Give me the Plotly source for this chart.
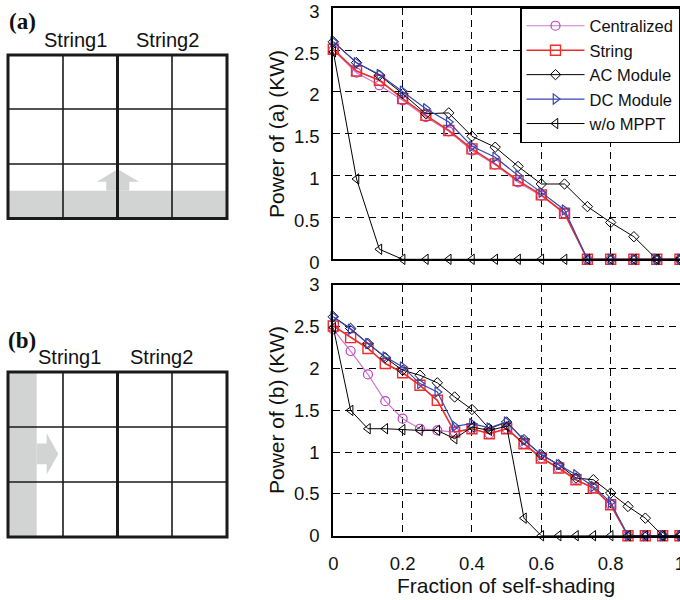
import plotly.graph_objects as go

# ---------------- data ----------------
series_names = ["Centralized", "String", "AC Module", "DC Module", "w/o MPPT"]

# panel (a): horizontal shading rising from the bottom row
frac_a = [0.000, 0.067, 0.133, 0.200, 0.267, 0.333, 0.400, 0.467,
          0.533, 0.600, 0.667, 0.733, 0.800, 0.867, 0.933, 1.000]
central_a = [2.50, 2.23, 2.08, 1.90, 1.70, 1.53, 1.30, 1.13, 0.92, 0.76, 0.55, 0, 0, 0, 0, 0]
string_a = [2.51, 2.25, 2.14, 1.92, 1.72, 1.54, 1.32, 1.14, 0.94, 0.77, 0.55, 0, 0, 0, 0, 0]
ac_a = [2.60, 2.35, 2.20, 1.98, 1.74, 1.75, 1.47, 1.34, 1.11, 0.90, 0.90, 0.63, 0.44, 0.27, 0, 0]
dc_a = [2.60, 2.35, 2.21, 2.01, 1.80, 1.64, 1.35, 1.22, 1.00, 0.80, 0.59, 0, 0, 0, 0, 0]
nomppt_a = [2.48, 0.96, 0.12, 0, 0, 0, 0, 0, 0, 0, 0, 0, 0, 0, 0, 0]

# panel (b): vertical shading moving in from the left column
frac_b = [0.00, 0.05, 0.10, 0.15, 0.20, 0.25, 0.30, 0.35, 0.40, 0.45, 0.50,
          0.55, 0.60, 0.65, 0.70, 0.75, 0.80, 0.85, 0.90, 0.95, 1.00]
central_b = [2.47, 2.21, 1.93, 1.61, 1.40, 1.28, 1.26, 1.24, 1.28, 1.22, 1.28,
             1.10, 0.93, 0.81, 0.67, 0.57, 0.37, 0, 0, 0, 0]
string_b = [2.51, 2.37, 2.24, 2.06, 1.95, 1.80, 1.62, 1.24, 1.28, 1.22, 1.28,
            1.10, 0.93, 0.81, 0.67, 0.57, 0.37, 0, 0, 0, 0]
ac_b = [2.62, 2.48, 2.30, 2.13, 1.98, 1.92, 1.83, 1.66, 1.51, 1.28, 1.36,
        1.15, 0.97, 0.85, 0.69, 0.67, 0.51, 0.35, 0.21, 0, 0]
dc_b = [2.62, 2.47, 2.30, 2.14, 2.02, 1.82, 1.72, 1.31, 1.34, 1.29, 1.36,
        1.14, 0.97, 0.85, 0.73, 0.59, 0.40, 0, 0, 0, 0]
nomppt_b = [2.49, 1.50, 1.28, 1.28, 1.27, 1.26, 1.26, 1.16, 1.30, 1.26, 1.31,
            0.21, 0, 0, 0, 0, 0, 0, 0, 0, 0]

y_tick_vals = [0, 0.5, 1, 1.5, 2, 2.5, 3]
y_tick_text = ["0", "0.5", "1", "1.5", "2", "2.5", "3"]
x_tick_vals = [0, 0.2, 0.4, 0.6, 0.8, 1]
x_tick_text = ["0", "0.2", "0.4", "0.6", "0.8", "1"]

# ---------------- styling ----------------
W, H = 680, 600
SANS = "Liberation Sans, Arial, sans-serif"
SERIF = "Liberation Serif, Times New Roman, serif"

styles = {
    "Centralized": dict(line=dict(color="#c77ccc", width=1.2),
                        marker=dict(symbol="circle-open", size=9, color="#c040c0",
                                    line=dict(width=1.2))),
    "String": dict(line=dict(color="#e8302c", width=1.6),
                   marker=dict(symbol="square-open", size=10, color="#e8302c",
                               line=dict(width=1.4))),
    "AC Module": dict(line=dict(color="#000000", width=1),
                      marker=dict(symbol="diamond-open", size=8, color="#000000",
                                  line=dict(width=1))),
    "DC Module": dict(line=dict(color="#3a46b0", width=1.2),
                      marker=dict(symbol="triangle-right-open", size=9, color="#3a46b0",
                                  line=dict(width=1.2))),
    "w/o MPPT": dict(line=dict(color="#000000", width=1),
                     marker=dict(symbol="triangle-left-open", size=9, color="#000000",
                                 line=dict(width=1))),
}


def px_x(p):
    return p / W


def px_y(p):
    return 1 - p / H


fig = go.Figure()

panel_a = [central_a, string_a, ac_a, dc_a, nomppt_a]
panel_b = [central_b, string_b, ac_b, dc_b, nomppt_b]

for name, ys in zip(series_names, panel_a):
    fig.add_trace(go.Scatter(x=frac_a, y=ys, name=name, mode="lines+markers",
                             xaxis="x", yaxis="y", cliponaxis=False,
                             legendgroup=name, showlegend=True, **styles[name]))
for name, ys in zip(series_names, panel_b):
    fig.add_trace(go.Scatter(x=frac_b, y=ys, name=name, mode="lines+markers",
                             xaxis="x2", yaxis="y2", cliponaxis=False,
                             legendgroup=name, showlegend=False, **styles[name]))

x_dom = [px_x(333.3), 1.0]
grid_common = dict(showgrid=True, gridcolor="#000000", gridwidth=1, griddash="7px,5px",
                   showline=True, linecolor="#000000", linewidth=2, zeroline=False,
                   automargin=False, ticks="", ticklabeloverflow="allow",
                   tickfont=dict(family=SANS, size=18.5, color="#111111"))

xaxis_common = dict(range=[0, 1], tickvals=x_tick_vals, ticktext=x_tick_text,
                    mirror=True, domain=x_dom, **grid_common)
yaxis_common = dict(range=[0, 3], tickvals=y_tick_vals, ticktext=y_tick_text,
                    mirror=False, ticklabelstandoff=8, **grid_common)

fig.update_layout(
    width=W, height=H,
    margin=dict(l=0, r=0, t=0, b=0, pad=0),
    paper_bgcolor="white", plot_bgcolor="white",
    xaxis=dict(anchor="y", showticklabels=False, **xaxis_common),
    # labels of the upper panel nudged down a touch so the top "3" stays on the page
    yaxis=dict(anchor="x", domain=[px_y(259.3), px_y(8.3)], ticklabelshift=3,
               **yaxis_common),
    xaxis2=dict(anchor="y2", showticklabels=True, ticklabelstandoff=10, **xaxis_common),
    yaxis2=dict(anchor="x2", domain=[px_y(535.7), px_y(285)], **yaxis_common),
    legend=dict(x=1.0, xanchor="right", y=px_y(7), yanchor="top",
                bgcolor="white", bordercolor="#000000", borderwidth=1.5,
                font=dict(family=SANS, size=16.5, color="#111111"),
                itemwidth=58, tracegroupgap=0),
    showlegend=True,
)

# axis titles
annotations = [
    dict(text="Power of (a) (KW)", x=px_x(276), y=px_y(134), textangle=-90),
    dict(text="Power of (b) (KW)", x=px_x(276), y=px_y(410), textangle=-90),
    dict(text="Fraction of self-shading", x=px_x(505.5), y=px_y(585), textangle=0),
]
for a in annotations:
    fig.add_annotation(xref="paper", yref="paper", showarrow=False,
                       xanchor="center", yanchor="middle",
                       font=dict(family=SANS, size=21, color="#111111"), **a)

# ---------------- module layout sketches ----------------
GRAY = "#d2d4d4"
INK = "#1a1a1a"


def rect(x0, y0, x1, y1, **kw):
    fig.add_shape(type="rect", xref="paper", yref="paper",
                  x0=px_x(x0), x1=px_x(x1), y0=px_y(y1), y1=px_y(y0), **kw)


def seg(x0, y0, x1, y1, width):
    fig.add_shape(type="line", xref="paper", yref="paper",
                  x0=px_x(x0), x1=px_x(x1), y0=px_y(y0), y1=px_y(y1),
                  line=dict(color=INK, width=width))


def poly(points):
    d = "M " + " L ".join(f"{px_x(a):.5f},{px_y(b):.5f}" for a, b in points) + " Z"
    fig.add_shape(type="path", xref="paper", yref="paper", path=d,
                  fillcolor=GRAY, line=dict(width=0))


def panel_grid(left, top, right, bottom, cols, rows):
    for c in cols:
        seg(c, top, c, bottom, 1.6)
    for r in rows:
        seg(left, r, right, r, 1.6)
    mid = (left + right) / 2
    seg(mid, top, mid, bottom, 3)
    rect(left, top, right, bottom, line=dict(color=INK, width=3), fillcolor="rgba(0,0,0,0)")


# (a) shading across the bottom, arrow pointing up
rect(8, 190.7, 227, 218.5, line=dict(width=0), fillcolor=GRAY)
poly([(106.2, 190.7), (106.2, 181.7), (96.7, 181.7), (117.7, 169.3),
      (139.3, 181.7), (129.3, 181.7), (129.3, 190.7)])
panel_grid(8, 55, 227, 218.5, [63, 172], [109, 164])

# (b) shading along the left edge, arrow pointing right
rect(8, 372, 36.7, 537, line=dict(width=0), fillcolor=GRAY)
poly([(36.7, 443.5), (46.7, 443.5), (46.7, 433.3), (58.3, 454),
      (46.7, 474.5), (46.7, 464.3), (36.7, 464.3)])
panel_grid(8, 372, 227, 537, [63, 172], [427, 482])

labels = [
    dict(text="<b>(a)</b>", x=22, y=21, size=23, family=SERIF),
    dict(text="String1", x=75.5, y=40, size=20, family=SANS),
    dict(text="String2", x=167.5, y=40, size=20, family=SANS),
    dict(text="<b>(b)</b>", x=22, y=340, size=23, family=SERIF),
    dict(text="String1", x=69.5, y=357, size=20, family=SANS),
    dict(text="String2", x=161.5, y=357, size=20, family=SANS),
]
for lb in labels:
    fig.add_annotation(xref="paper", yref="paper", showarrow=False,
                       xanchor="center", yanchor="middle",
                       x=px_x(lb["x"]), y=px_y(lb["y"]), text=lb["text"],
                       font=dict(family=lb["family"], size=lb["size"], color="#111111"))

fig.write_html("out.html")
